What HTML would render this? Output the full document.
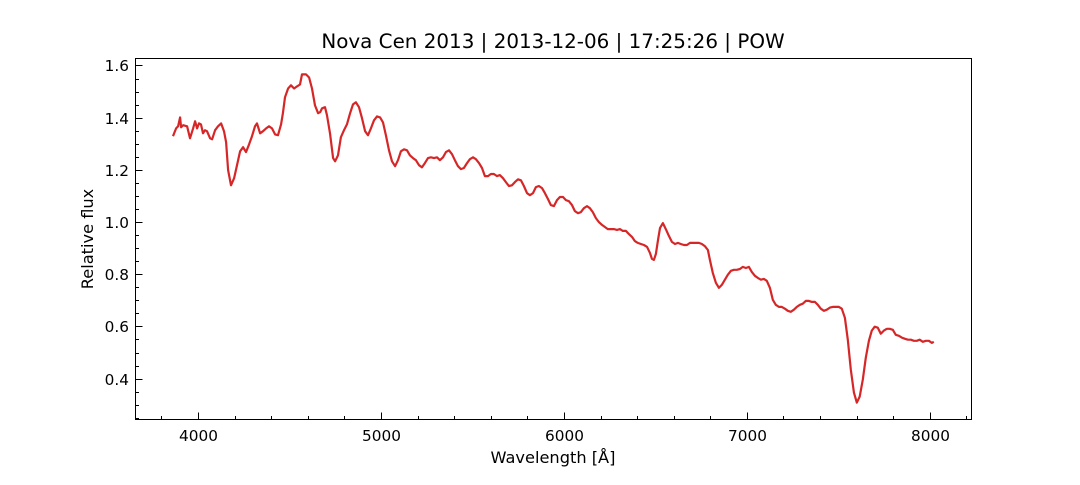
<!DOCTYPE html>
<html><head><meta charset="utf-8"><style>
body{margin:0;background:#fff;}
text{font-family:"DejaVu Sans","Liberation Sans",sans-serif;fill:#000;}
</style></head><body>
<svg id="chart" width="1080" height="480" xmlns="http://www.w3.org/2000/svg">
<rect width="1080" height="480" fill="#fff"/>
<text x="553" y="48" text-anchor="middle" font-size="19.9">Nova Cen 2013 | 2013-12-06 | 17:25:26 | POW</text>
<text x="553" y="463" text-anchor="middle" font-size="16.2">Wavelength [Å]</text>
<text transform="translate(93,239) rotate(-90)" text-anchor="middle" font-size="16.2">Relative flux</text>
<g id="ticks"></g>
<path id="line" fill="none" stroke="#d62728" stroke-width="2.2" stroke-linejoin="round"/>
<rect x="135.5" y="58.5" width="836" height="361" fill="none" stroke="#000" stroke-width="1"/>
</svg>
<script>
const wavelengths=[3863,3880,3891,3902,3907,3918,3940,3956,3973,3984,3995,4005,4016,4027,4038,4049,4066,4077,4093,4109,4126,4142,4153,4164,4180,4197,4213,4230,4246,4262,4279,4295,4311,4322,4339,4355,4372,4388,4404,4421,4437,4454,4464,4475,4492,4508,4525,4541,4557,4568,4590,4607,4623,4639,4656,4667,4678,4694,4705,4721,4738,4749,4765,4781,4798,4814,4831,4847,4863,4880,4896,4913,4929,4945,4962,4978,4995,5011,5027,5044,5060,5077,5093,5109,5126,5142,5158,5175,5191,5208,5224,5240,5257,5273,5290,5306,5322,5339,5355,5372,5388,5404,5421,5437,5453,5470,5486,5503,5519,5536,5552,5568,5585,5601,5617,5634,5650,5667,5683,5699,5716,5732,5749,5765,5781,5798,5814,5831,5847,5863,5880,5896,5913,5929,5945,5962,5978,5995,6011,6027,6044,6060,6077,6093,6109,6126,6142,6158,6175,6191,6208,6224,6240,6257,6273,6290,6306,6322,6339,6355,6372,6388,6404,6421,6437,6454,6470,6481,6492,6503,6514,6525,6541,6557,6574,6590,6607,6623,6639,6656,6672,6689,6705,6721,6738,6754,6770,6787,6798,6814,6831,6847,6863,6880,6896,6913,6929,6945,6962,6978,6995,7011,7027,7044,7060,7077,7093,7109,7126,7142,7158,7175,7191,7208,7224,7240,7257,7273,7290,7306,7322,7339,7355,7372,7388,7404,7421,7437,7454,7470,7486,7503,7519,7536,7552,7568,7585,7601,7617,7634,7650,7667,7683,7699,7716,7732,7749,7765,7781,7798,7814,7831,7847,7863,7880,7896,7913,7929,7945,7962,7978,7995,8011,8022];
const fluxes=[1.329,1.359,1.367,1.401,1.363,1.371,1.367,1.321,1.359,1.386,1.359,1.378,1.374,1.340,1.352,1.348,1.321,1.317,1.352,1.367,1.378,1.348,1.306,1.199,1.141,1.168,1.218,1.271,1.287,1.268,1.298,1.329,1.367,1.378,1.340,1.348,1.359,1.367,1.359,1.336,1.333,1.375,1.417,1.478,1.512,1.524,1.512,1.520,1.527,1.566,1.566,1.554,1.512,1.447,1.417,1.421,1.436,1.440,1.409,1.340,1.245,1.233,1.256,1.325,1.352,1.375,1.417,1.451,1.459,1.440,1.398,1.348,1.333,1.359,1.390,1.405,1.401,1.382,1.333,1.275,1.233,1.214,1.237,1.271,1.279,1.275,1.256,1.245,1.237,1.218,1.210,1.226,1.245,1.248,1.245,1.248,1.237,1.248,1.268,1.275,1.260,1.237,1.214,1.203,1.207,1.226,1.241,1.248,1.241,1.226,1.207,1.176,1.176,1.184,1.184,1.176,1.180,1.168,1.153,1.138,1.141,1.153,1.164,1.160,1.138,1.111,1.103,1.111,1.134,1.138,1.130,1.111,1.088,1.065,1.061,1.084,1.096,1.096,1.084,1.080,1.065,1.042,1.034,1.038,1.053,1.061,1.053,1.038,1.015,1.000,0.989,0.981,0.973,0.973,0.973,0.970,0.973,0.966,0.966,0.954,0.943,0.927,0.920,0.916,0.912,0.905,0.882,0.859,0.855,0.878,0.931,0.977,0.996,0.973,0.947,0.924,0.916,0.920,0.916,0.912,0.912,0.920,0.920,0.920,0.920,0.916,0.908,0.893,0.855,0.805,0.767,0.748,0.759,0.779,0.798,0.813,0.817,0.817,0.820,0.828,0.824,0.828,0.809,0.794,0.786,0.779,0.782,0.775,0.748,0.702,0.683,0.675,0.675,0.668,0.660,0.656,0.664,0.675,0.683,0.687,0.698,0.698,0.694,0.694,0.683,0.668,0.660,0.664,0.672,0.675,0.675,0.675,0.668,0.633,0.549,0.435,0.347,0.308,0.331,0.396,0.480,0.545,0.584,0.599,0.595,0.572,0.584,0.591,0.591,0.587,0.568,0.564,0.557,0.553,0.549,0.549,0.545,0.545,0.549,0.541,0.545,0.545,0.537,0.541];
const xTickValues=[4000,5000,6000,7000,8000];
const xTickLabels=["4000","5000","6000","7000","8000"];
const yTickValues=[0.4,0.6,0.8,1.0,1.2,1.4,1.6];
const yTickLabels=["0.4","0.6","0.8","1.0","1.2","1.4","1.6"];

const X0=135.5,X1=971.5,Y0=419.5,Y1=58.5;
const xMin=3658,xMax=8228,yMin=0.2433,yMax=1.6268;
function xs(v){return X0+(v-xMin)/(xMax-xMin)*(X1-X0);}
function ys(v){return Y0-(v-yMin)/(yMax-yMin)*(Y0-Y1);}
const NS="http://www.w3.org/2000/svg";
const g=document.getElementById('ticks');
function ln(x1,y1,x2,y2,name){const l=document.createElementNS(NS,'line');l.setAttribute('x1',x1);l.setAttribute('y1',y1);l.setAttribute('x2',x2);l.setAttribute('y2',y2);l.setAttribute('stroke','#000');l.setAttribute('stroke-width','1');


g.appendChild(l);}
function tx(x,y,s,anchor,name){const t=document.createElementNS(NS,'text');t.setAttribute('x',x);t.setAttribute('y',y);t.setAttribute('text-anchor',anchor);t.setAttribute('font-size','15.3');t.textContent=s;


g.appendChild(t);}
for(let v=3800;v<=8200;v+=200){if(v%1000===0)continue;const x=Math.round(xs(v))+0.5;ln(x,Y0,x,Y0-3.5,'x-minor-tick');}
for(let v=0.25;v<=1.62;v+=0.05){const r=Math.round(v*100);if(r%20===0)continue;const y=Math.round(ys(v))+0.5;ln(X0,y,X0+3.5,y,'y-minor-tick');}
xTickValues.forEach((v,i)=>{const x=Math.round(xs(v))+0.5;ln(x,Y0,x,Y0-7,'x-major-tick');tx(x,441,xTickLabels[i],'middle','x-tick-label');});
yTickValues.forEach((v,i)=>{const y=Math.round(ys(v))+0.5;ln(X0,y,X0+7,y,'y-major-tick');tx(129,y+5.5,yTickLabels[i],'end','y-tick-label');});
let d='';wavelengths.forEach((w,i)=>{d+=(i?'L':'M')+xs(w).toFixed(1)+','+ys(fluxes[i]).toFixed(1);});
document.getElementById('line').setAttribute('d',d);
</script>
</body></html>
